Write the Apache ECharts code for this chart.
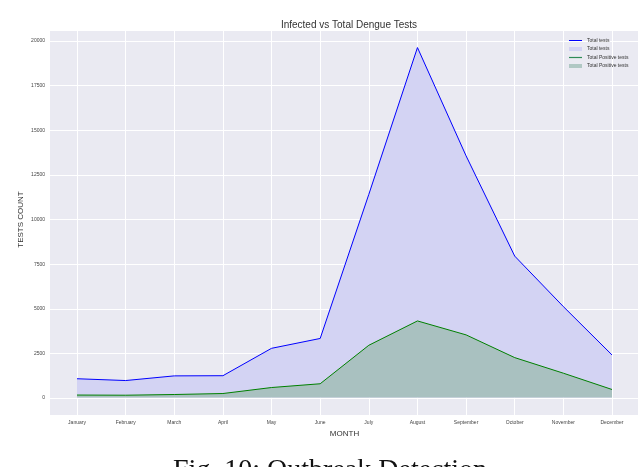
<!DOCTYPE html>
<html><head><meta charset="utf-8">
<script src="https://cdn.jsdelivr.net/npm/echarts@6/dist/echarts.min.js"></script>
<style>html,body{margin:0;padding:0;background:#fff}#c{width:640px;height:467px}</style>
</head><body><div id="c"></div>
<script>
const months = ['January','February','March','April','May','June','July','August','September','October','November','December'];
const totalTests = [1050, 950, 1210, 1220, 2750, 3300, 11350, 19550, 13500, 7900, 5080, 2380];
const positiveTests = [140, 130, 170, 225, 560, 770, 2920, 4280, 3500, 2230, 1360, 450];
const yTicks = [0, 2500, 5000, 7500, 10000, 12500, 15000, 17500, 20000];

const font = 'Liberation Sans';
const chart = echarts.init(document.getElementById('c'), null, {renderer: 'canvas'});
chart.setOption({
  animation: false,
  backgroundColor: '#ffffff',
  title: {
    text: 'Infected vs Total Dengue Tests', left: 344, top: 15, textAlign: 'center',
    textStyle: {fontFamily: font, fontSize: 10, fontWeight: 'normal', color: '#333'}
  },
  grid: [
    {left: 50, right: 2, top: 31, bottom: 52, show: true, backgroundColor: '#eaeaf2', borderWidth: 0, z: 0},
    {left: 50, right: 2, top: 41, bottom: 69, show: false},
    {left: 77, right: 28, top: 31, bottom: 52, show: false}
  ],
  xAxis: [
    {gridIndex: 0, type: 'value', show: false, min: 0, max: 1},
    {gridIndex: 1, type: 'value', show: false, min: 0, max: 1},
    {gridIndex: 2, type: 'category', data: months, boundaryGap: false,
     axisLine: {show: false}, axisTick: {show: false},
     axisLabel: {fontFamily: font, fontSize: 5, color: '#444', margin: 5, interval: 0},
     splitLine: {show: true, lineStyle: {color: '#ffffff', width: 1}},
     name: 'MONTH', nameLocation: 'middle', nameGap: 15, nameMoveOverlap: false,
     nameTextStyle: {fontFamily: font, fontSize: 8, color: '#333'}}
  ],
  yAxis: [
    {gridIndex: 0, type: 'value', show: false, min: 0, max: 1},
    {gridIndex: 1, type: 'value', min: 0, max: 20000, interval: 2500,
     axisLine: {show: false}, axisTick: {show: false},
     axisLabel: {fontFamily: font, fontSize: 5, color: '#444', margin: 5,
       formatter: v => yTicks.indexOf(v) >= 0 ? String(v) : ''},
     splitLine: {show: true, lineStyle: {color: '#ffffff', width: 1}},
     name: 'TESTS COUNT', nameLocation: 'middle', nameGap: 25, nameRotate: 90, nameMoveOverlap: false,
     nameTextStyle: {fontFamily: font, fontSize: 8, color: '#333'}},
    {gridIndex: 2, type: 'value', show: false, min: -975, max: 20475, splitLine: {show: false}}
  ],
  series: [
    {name: 'Total tests', type: 'line', xAxisIndex: 2, yAxisIndex: 2, data: totalTests,
     symbol: 'none', lineStyle: {color: '#0000ff', width: 1}, itemStyle: {color: '#0000ff'},
     areaStyle: {color: '#d3d3f3', opacity: 1, origin: 0}, z: 3},
    {name: 'Total Positive tests', type: 'line', xAxisIndex: 2, yAxisIndex: 2, data: positiveTests,
     symbol: 'none', lineStyle: {color: '#008000', width: 1}, itemStyle: {color: '#008000'},
     areaStyle: {color: '#a9c1c0', opacity: 1, origin: 0}, z: 4}
  ],
  graphic: [
    {type: 'line', shape: {x1: 569, y1: 40.5, x2: 582, y2: 40.5}, style: {stroke: '#0000ff', lineWidth: 1}, z: 10},
    {type: 'text', x: 587, y: 40.5, style: {text: 'Total tests', fontFamily: font, fontSize: 5, fill: '#333', verticalAlign: 'middle'}, z: 10},
    {type: 'rect', shape: {x: 569, y: 47, width: 13, height: 4}, style: {fill: '#d3d3f3'}, z: 10},
    {type: 'text', x: 587, y: 49, style: {text: 'Total tests', fontFamily: font, fontSize: 5, fill: '#333', verticalAlign: 'middle'}, z: 10},
    {type: 'line', shape: {x1: 569, y1: 57.5, x2: 582, y2: 57.5}, style: {stroke: '#2e8b57', lineWidth: 1.2}, z: 10},
    {type: 'text', x: 587, y: 57.5, style: {text: 'Total Positive tests', fontFamily: font, fontSize: 5, fill: '#333', verticalAlign: 'middle'}, z: 10},
    {type: 'rect', shape: {x: 569, y: 64, width: 13, height: 4}, style: {fill: '#b0c8c4'}, z: 10},
    {type: 'text', x: 587, y: 66, style: {text: 'Total Positive tests', fontFamily: font, fontSize: 5, fill: '#333', verticalAlign: 'middle'}, z: 10},
    {type: 'text', x: 330, y: 457, style: {text: 'Fig. 10: Outbreak Detection', fontFamily: 'Liberation Serif', fontSize: 28, fill: '#111', align: 'center', verticalAlign: 'top'}, z: 10}
  ]
});
</script></body></html>
